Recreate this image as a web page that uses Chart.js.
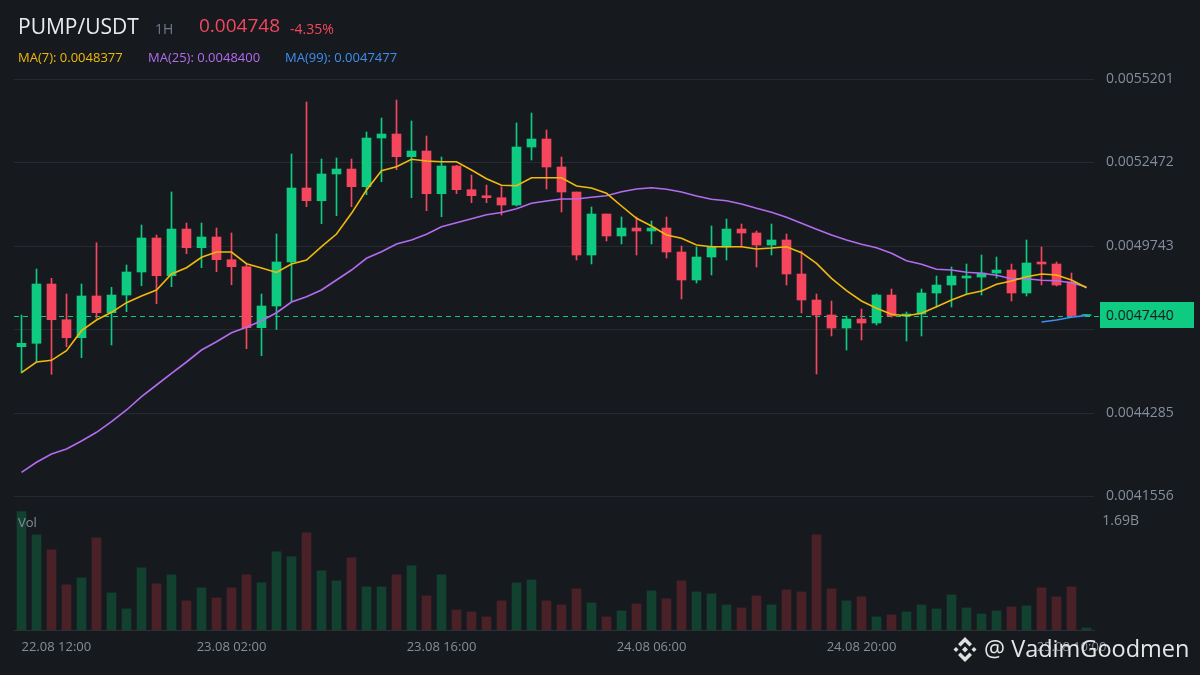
<!DOCTYPE html>
<html>
<head>
<meta charset="utf-8">
<script src="https://cdn.jsdelivr.net/npm/chart.js@4.4.0/dist/chart.umd.min.js"></script>
<style>
  body { margin: 0; background: #161a1e; font-family: "Open Sans", sans-serif; }
  #wrap { position: relative; width: 1200px; height: 675px; overflow: hidden; background: #161a1e; }
  #wrap canvas { position: absolute; left: 0; top: 0; }
  .t { position: absolute; white-space: nowrap; line-height: 1; }
</style>
</head>
<body>
<div id="wrap">
  <canvas id="chart" width="1200" height="675"></canvas>

  <div class="t" style="left:18px;top:16px;font-size:21px;color:#eaecef">PUMP/USDT</div>
  <div class="t" style="left:155px;top:22px;font-size:14px;color:#707a8a">1H</div>
  <div class="t" style="left:199px;top:16px;font-size:19px;color:#f6465d">0.004748</div>
  <div class="t" style="left:290px;top:22px;font-size:14px;color:#f6465d">-4.35%</div>

  <div class="t" style="left:18px;top:51px;font-size:13px;color:#f0b90b">MA(7): 0.0048377</div>
  <div class="t" style="left:148px;top:51px;font-size:13px;color:#b36bf0">MA(25): 0.0048400</div>
  <div class="t" style="left:285px;top:51px;font-size:13px;color:#3d8ff2">MA(99): 0.0047477</div>

  <div class="t" style="left:18px;top:516px;font-size:13px;color:#848e9c">Vol</div>

  <div id="pbox" class="t" style="left:1100px;top:302px;width:94px;height:26px;background:#0ecb81;color:#181a20;font-size:14px;line-height:26px;padding-left:6px;box-sizing:border-box"></div>

  <svg style="position:absolute;left:952px;top:636px" width="26" height="27" viewBox="0 0 26 27">
    <g fill="#e0e0e0">
      <path d="M13 1 L20 8 L17.5 10.5 L13 6 L8.5 10.5 L6 8 Z"/>
      <path d="M13 26 L20 19 L17.5 16.5 L13 21 L8.5 16.5 L6 19 Z"/>
      <path d="M13 10.5 L16 13.5 L13 16.5 L10 13.5 Z"/>
      <path d="M4 11 L6.5 13.5 L4 16 L1.5 13.5 Z"/>
      <path d="M22 11 L24.5 13.5 L22 16 L19.5 13.5 Z"/>
    </g>
  </svg>
  <div class="t" style="left:984px;top:637px;font-size:23.5px;color:#e6e6e6">@ VadimGoodmen</div>
</div>

<script>
// hourly candles, 22.08 12:00 .. 25.08 11:00
const times = [
  '22.08 12:00','22.08 13:00','22.08 14:00','22.08 15:00','22.08 16:00','22.08 17:00',
  '22.08 18:00','22.08 19:00','22.08 20:00','22.08 21:00','22.08 22:00','22.08 23:00',
  '23.08 00:00','23.08 01:00','23.08 02:00','23.08 03:00','23.08 04:00','23.08 05:00',
  '23.08 06:00','23.08 07:00','23.08 08:00','23.08 09:00','23.08 10:00','23.08 11:00',
  '23.08 12:00','23.08 13:00','23.08 14:00','23.08 15:00','23.08 16:00','23.08 17:00',
  '23.08 18:00','23.08 19:00','23.08 20:00','23.08 21:00','23.08 22:00','23.08 23:00',
  '24.08 00:00','24.08 01:00','24.08 02:00','24.08 03:00','24.08 04:00','24.08 05:00',
  '24.08 06:00','24.08 07:00','24.08 08:00','24.08 09:00','24.08 10:00','24.08 11:00',
  '24.08 12:00','24.08 13:00','24.08 14:00','24.08 15:00','24.08 16:00','24.08 17:00',
  '24.08 18:00','24.08 19:00','24.08 20:00','24.08 21:00','24.08 22:00','24.08 23:00',
  '25.08 00:00','25.08 01:00','25.08 02:00','25.08 03:00','25.08 04:00','25.08 05:00',
  '25.08 06:00','25.08 07:00','25.08 08:00','25.08 09:00','25.08 10:00','25.08 11:00'
];
const tickLabels = ['22.08 12:00', '23.08 02:00', '23.08 16:00', '24.08 06:00', '24.08 20:00', '25.08 10:00'];

const opens = [
  0.0046452,0.0046563,0.0048501,0.0047334,0.0046746,0.0048109,0.0047563,0.0048141,0.0048893,0.0050004,
  0.0048772,0.0050298,0.0049687,0.0050037,0.0049295,0.0049066,0.0047073,0.0047782,0.0049220,0.0051638,
  0.0051223,0.0052096,0.0052259,0.0051681,0.0053272,0.0053403,0.0052661,0.0052847,0.0051452,0.0052357,
  0.0051583,0.0051387,0.0051321,0.0051083,0.0052978,0.0053239,0.0052325,0.0051508,0.0049449,0.0050789,
  0.0050070,0.0050331,0.0050233,0.0050331,0.0049547,0.0048632,0.0049383,0.0049710,0.0050298,0.0050168,
  0.0049775,0.0049939,0.0048828,0.0047978,0.0047488,0.0047063,0.0047357,0.0047226,0.0048141,0.0047455,
  0.0047521,0.0048207,0.0048468,0.0048697,0.0048729,0.0048860,0.0048958,0.0048207,0.0049220,0.0049155,
  0.0048566,0.0047470
];
const highs = [
  0.0047488,0.0048991,0.0048687,0.0048174,0.0048501,0.0049851,0.0048393,0.0049122,0.0050429,0.0050102,
  0.0051508,0.0050494,0.0050494,0.0050331,0.0050168,0.0049155,0.0048174,0.0050135,0.0052749,0.0054449,
  0.0052586,0.0052619,0.0052586,0.0053468,0.0053926,0.0054514,0.0053828,0.0053338,0.0052651,0.0052380,
  0.0052063,0.0051736,0.0051681,0.0053763,0.0054089,0.0053534,0.0052651,0.0051508,0.0051017,0.0050789,
  0.0050691,0.0050691,0.0050560,0.0050691,0.0049743,0.0049710,0.0050396,0.0050625,0.0050462,0.0050233,
  0.0050462,0.0050135,0.0049579,0.0048174,0.0047945,0.0047455,0.0047684,0.0048174,0.0048338,0.0047586,
  0.0048338,0.0048762,0.0049057,0.0049155,0.0049449,0.0049383,0.0049155,0.0049939,0.0049710,0.0049220,
  0.0048860,0.0047500
];
const lows = [
  0.0045592,0.0045962,0.0045550,0.0046452,0.0046092,0.0047380,0.0046507,0.0047596,0.0048445,0.0047857,
  0.0048413,0.0049491,0.0049034,0.0048903,0.0048478,0.0046387,0.0046158,0.0047014,0.0047923,0.0051027,
  0.0050472,0.0050733,0.0051027,0.0051419,0.0051844,0.0052236,0.0051321,0.0050896,0.0050700,0.0051452,
  0.0051158,0.0051158,0.0050756,0.0051050,0.0052553,0.0051606,0.0050854,0.0049285,0.0049155,0.0049906,
  0.0049808,0.0049449,0.0049808,0.0049351,0.0048011,0.0048534,0.0048795,0.0049285,0.0049710,0.0049057,
  0.0049449,0.0048468,0.0047553,0.0045560,0.0046802,0.0046344,0.0046671,0.0047161,0.0047420,0.0046638,
  0.0046802,0.0047749,0.0047749,0.0048174,0.0048141,0.0048697,0.0047945,0.0048109,0.0048468,0.0048436,
  0.0047423,0.0047440
];
const closes = [
  0.0046563,0.0048501,0.0047334,0.0046746,0.0048109,0.0047563,0.0048141,0.0048893,0.0050004,0.0048772,
  0.0050298,0.0049687,0.0050037,0.0049295,0.0049066,0.0047073,0.0047782,0.0049220,0.0051638,0.0051223,
  0.0052096,0.0052259,0.0051681,0.0053272,0.0053403,0.0052661,0.0052847,0.0051452,0.0052357,0.0051583,
  0.0051387,0.0051321,0.0051083,0.0052978,0.0053239,0.0052325,0.0051508,0.0049449,0.0050789,0.0050070,
  0.0050331,0.0050233,0.0050331,0.0049547,0.0048632,0.0049383,0.0049710,0.0050298,0.0050168,0.0049775,
  0.0049939,0.0048828,0.0047978,0.0047488,0.0047063,0.0047357,0.0047226,0.0048141,0.0047455,0.0047521,
  0.0048207,0.0048468,0.0048762,0.0048762,0.0048860,0.0048958,0.0048207,0.0049187,0.0049155,0.0048468,
  0.0047470,0.0047480
];
// volume in millions
const volumesM = [
  1829,1473,1240,698,806,1426,574,326,961,713,
  853,450,651,496,651,853,729,1209,1132,1504,
  915,760,1116,667,667,853,992,527,853,310,
  279,202,450,729,775,450,388,636,419,202,
  295,403,605,481,760,589,558,388,341,527,
  388,620,589,1473,636,450,512,202,233,279,
  388,326,543,341,248,295,357,372,651,512,
  667,31
];
const ma7 = [
  0.0045602,0.0045952,0.0046007,0.0046321,0.0046975,0.0047324,0.0047576,0.0047890,0.0048109,0.0048305,
  0.0048828,0.0049034,0.0049374,0.0049547,0.0049547,0.0049164,0.0049024,0.0048877,0.0049155,0.0049285,
  0.0049720,0.0050135,0.0050811,0.0051573,0.0052204,0.0052334,0.0052576,0.0052521,0.0052498,0.0052498,
  0.0052226,0.0051942,0.0051727,0.0051713,0.0051975,0.0051975,0.0051975,0.0051704,0.0051638,0.0051465,
  0.0051050,0.0050648,0.0050396,0.0050102,0.0049994,0.0049775,0.0049720,0.0049720,0.0049720,0.0049645,
  0.0049677,0.0049720,0.0049524,0.0049177,0.0048687,0.0048282,0.0047945,0.0047707,0.0047511,0.0047465,
  0.0047543,0.0047759,0.0047978,0.0048164,0.0048272,0.0048491,0.0048599,0.0048739,0.0048828,0.0048795,
  0.0048632,0.0048377
];
const ma25 = [
  0.0042347,0.0042674,0.0042945,0.0043109,0.0043370,0.0043654,0.0044001,0.0044383,0.0044818,0.0045200,
  0.0045583,0.0045952,0.0046344,0.0046615,0.0046909,0.0047086,0.0047302,0.0047563,0.0047913,0.0048086,
  0.0048305,0.0048632,0.0048958,0.0049341,0.0049557,0.0049808,0.0049939,0.0050125,0.0050374,0.0050504,
  0.0050635,0.0050766,0.0050838,0.0050962,0.0051138,0.0051213,0.0051279,0.0051279,0.0051334,0.0051387,
  0.0051517,0.0051606,0.0051648,0.0051596,0.0051508,0.0051377,0.0051269,0.0051223,0.0051115,0.0050975,
  0.0050847,0.0050681,0.0050485,0.0050289,0.0050102,0.0049939,0.0049798,0.0049687,0.0049504,0.0049262,
  0.0049145,0.0048981,0.0048958,0.0048883,0.0048851,0.0048785,0.0048674,0.0048674,0.0048622,0.0048609,
  0.0048543,0.0048400
];
// MA(99) only visible for the last candles
const ma99Start = 68;
const ma99Tail = [0.0047259, 0.0047324, 0.0047413, 0.0047477];

const priceTicks = [0.0041556, 0.0044285, 0.0047014, 0.0049743, 0.0052472, 0.0055201];
const volTicks = [1690];
const lastPrice = 0.0047440;

const upColor = '#0ecb81';
const downColor = '#f6465d';

const candleColors = closes.map((c, i) => c >= opens[i] ? upColor : downColor);
const volColors = closes.map((c, i) => c >= opens[i] ? '#13412f' : '#4b2128');
const bodies = opens.map((o, i) => [o, closes[i]]);
const wicks = lows.map((l, i) => [l, highs[i]]);
const ma99 = times.map((t, i) => i >= ma99Start ? ma99Tail[i - ma99Start] : null);

document.getElementById('pbox').textContent = lastPrice.toFixed(7);

Chart.defaults.font.family = '"Open Sans", sans-serif';

// dashed last price line behind the candles, and move the price box to it
const priceLine = {
  id: 'priceLine',
  beforeDatasetsDraw(chart) {
    const y = Math.round(chart.scales.y.getPixelForValue(lastPrice)) + 0.5;
    const ctx = chart.ctx;
    ctx.save();
    ctx.strokeStyle = upColor;
    ctx.lineWidth = 1;
    ctx.setLineDash([5, 4]);
    ctx.beginPath();
    ctx.moveTo(chart.chartArea.left, y);
    ctx.lineTo(1100, y);
    ctx.stroke();
    ctx.restore();
    document.getElementById('pbox').style.top = (y - 14.5) + 'px';
  }
};

const ctx = document.getElementById('chart').getContext('2d');
new Chart(ctx, {
  type: 'bar',
  data: {
    labels: times,
    datasets: [
      { type: 'line', label: 'MA(99)', data: ma99, borderColor: '#3d8ff2', borderWidth: 1.6, pointRadius: 0, tension: 0, order: 0, yAxisID: 'y' },
      { type: 'line', label: 'MA(7)', data: ma7, borderColor: '#f0b90b', borderWidth: 1.6, pointRadius: 0, tension: 0, order: 1, yAxisID: 'y' },
      { type: 'line', label: 'MA(25)', data: ma25, borderColor: '#b36bf0', borderWidth: 1.6, pointRadius: 0, tension: 0, order: 2, yAxisID: 'y' },
      { label: 'body', data: bodies, backgroundColor: candleColors, barThickness: 9, minBarLength: 1, grouped: false, order: 3, yAxisID: 'y' },
      { label: 'wick', data: wicks, backgroundColor: candleColors, barThickness: 1, grouped: false, order: 4, yAxisID: 'y' },
      { label: 'Vol', data: volumesM, backgroundColor: volColors, barThickness: 9, grouped: false, order: 5, yAxisID: 'v' }
    ]
  },
  options: {
    responsive: false,
    animation: false,
    layout: { padding: { left: 14, top: 79, right: 0, bottom: 0 } },
    plugins: { legend: { display: false }, tooltip: { enabled: false } },
    scales: {
      x: {
        offset: true,
        grid: { display: false, drawTicks: false },
        border: { display: true, color: '#2b2f36' },
        ticks: {
          autoSkip: false, maxRotation: 0, align: 'inner', padding: 9,
          color: '#848e9c', font: { size: 13 },
          callback: function (v, i) { return tickLabels.includes(times[i]) ? times[i] : ''; }
        },
        afterFit: function (s) { s.height = 45; }
      },
      y: {
        position: 'right',
        weight: 1,
        min: 0.0037193,
        max: 0.0055201,
        afterBuildTicks: function (s) { s.ticks = priceTicks.map(v => ({ value: v })); },
        grid: { color: '#262a30', drawTicks: false },
        border: { display: false },
        ticks: {
          padding: 12, color: '#848e9c', font: { size: 14 },
          // the label under the last price box is hidden, its grid line stays
          callback: v => Math.abs(v - lastPrice) < 0.00006 ? '' : v.toFixed(7)
        },
        afterFit: function (s) { s.width = 106; }
      },
      v: {
        position: 'right',
        weight: 0,
        min: 0,
        max: 8518,
        afterBuildTicks: function (s) { s.ticks = volTicks.map(v => ({ value: v })); },
        grid: { display: false, drawTicks: false },
        border: { display: false },
        ticks: {
          mirror: true, crossAlign: 'near', padding: 45,
          color: '#848e9c', font: { size: 14 },
          callback: v => (v / 1000).toFixed(2) + 'B'
        },
        afterFit: function (s) {
          s.width = 0;
          s.paddingTop = 0;
          s.paddingBottom = 0;
        }
      }
    }
  },
  plugins: [priceLine]
});
</script>
</body>
</html>
